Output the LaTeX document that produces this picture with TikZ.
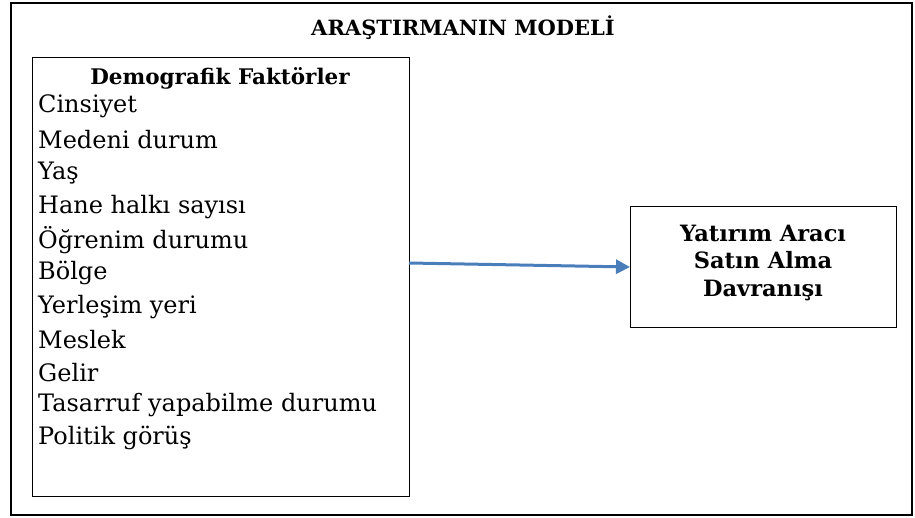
\documentclass[tikz,border=0pt]{standalone}
\usepackage{fontspec}
\setmainfont{DejaVu Serif}
\usetikzlibrary{arrows.meta}
\definecolor{arrowblue}{HTML}{4A7EBB}
\tikzset{
  frame/.style={draw=black, line width=1.4pt},
  box/.style={draw=black, line width=1pt},
  item/.style={anchor=west, inner sep=0pt, font=\fontsize{24}{28}\selectfont},
  head/.style={inner sep=0pt, font=\fontsize{21.5}{25}\selectfont\bfseries},
  link/.style={draw=arrowblue, line width=3pt, -{Triangle[length=14pt,width=14pt]}}
}
\begin{document}
\begin{tikzpicture}[x=1pt,y=-1pt]
\useasboundingbox (0,0) rectangle (915,518);
\draw[frame] (11,3) rectangle (912,515);
\node[head, font=\fontsize{21}{25}\selectfont\bfseries] (title) at (463,28) {ARAŞTIRMANIN MODELİ};
\node[box, minimum width=377pt, minimum height=439pt, anchor=north west] (left) at (32,57) {};
\node[head] (dem) at (220,78) {Demografik Faktörler};
\node[item] (i1) at (38,106) {Cinsiyet};
\node[item] (i2) at (38,140) {Medeni durum};
\node[item] (i3) at (38,173) {Yaş};
\node[item] (i4) at (38,207) {Hane halkı sayısı};
\node[item] (i5) at (38,240) {Öğrenim durumu};
\node[item] (i6) at (38,273) {Bölge};
\node[item] (i7) at (38,307) {Yerleşim yeri};
\node[item] (i8) at (38,340) {Meslek};
\node[item] (i9) at (38,373) {Gelir};
\node[item] (i10) at (38,405) {Tasarruf yapabilme durumu};
\node[item] (i11) at (38,438) {Politik görüş};
\node[box, minimum width=266pt, minimum height=121pt, anchor=north west] (right) at (630,206) {};
\node[head, align=center, font=\fontsize{22.5}{27.5}\selectfont\bfseries] (rt) at (763,263) {Yatırım Aracı\\Satın Alma\\Davranışı};
\coordinate (s) at (409,263);
\draw[link] (s) -- (right.west);
\end{tikzpicture}
\end{document}
